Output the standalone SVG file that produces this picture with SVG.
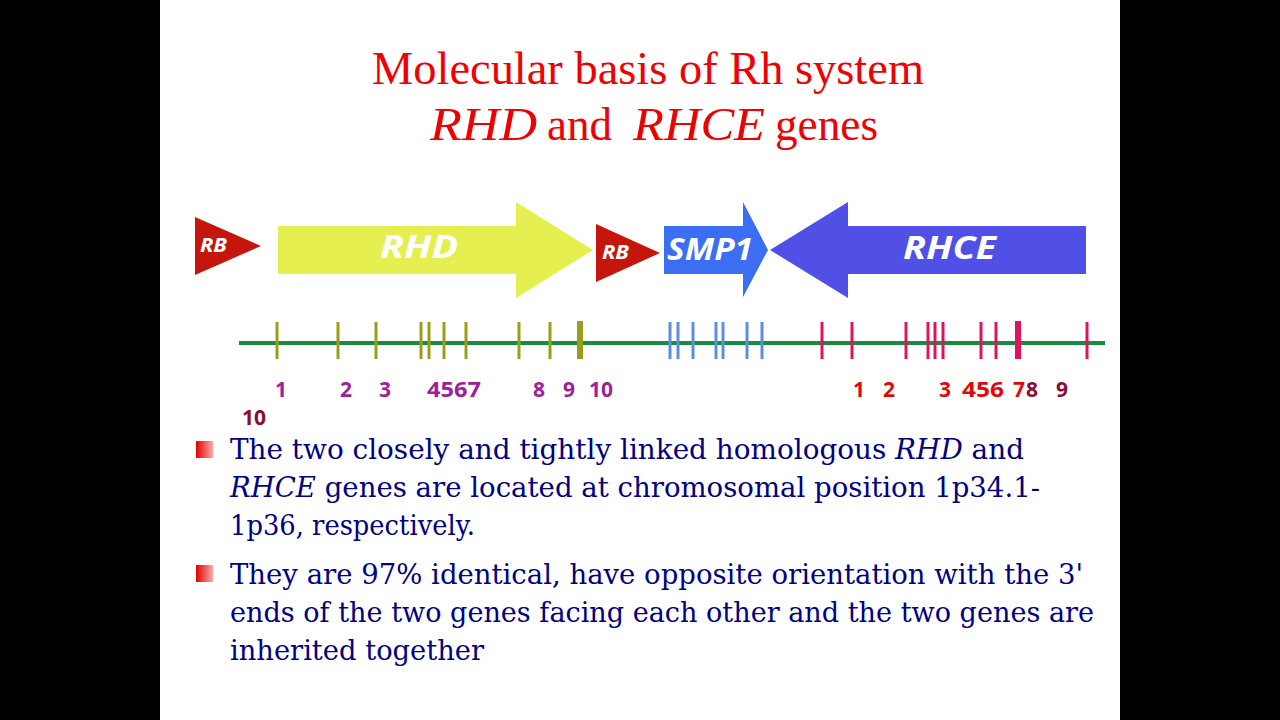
<svg xmlns="http://www.w3.org/2000/svg" width="1280" height="720" viewBox="0 0 1280 720">
<defs>
<linearGradient id="bul" x1="0" y1="0" x2="1" y2="0">
<stop offset="0" stop-color="#e00000"/>
<stop offset="1" stop-color="#ffa8a8"/>
</linearGradient>
<style>
.title{font-family:"Liberation Serif","Times New Roman",serif;font-size:46px;fill:#ee0000}
.lbl{font-family:"Open Sans","DejaVu Sans",sans-serif;font-weight:700;font-style:italic;fill:#ffffff}
.num{font-family:"Open Sans","DejaVu Sans",sans-serif;font-weight:700;font-size:21px}
.pur{fill:#a0209c}
.red{fill:#e00808}
.dred{fill:#8c0c34}
.body{font-family:"DejaVu Serif","Liberation Serif",serif;font-size:28px;fill:#000080}
.tD{stroke:#9c9c1c;stroke-width:3}
.tS{stroke:#5c8ee0;stroke-width:3}
.tC{stroke:#e0145c;stroke-width:3}
.thick{stroke-width:6}
</style>
</defs>
<rect x="0" y="0" width="1280" height="720" fill="#000000"/>
<rect x="160" y="0" width="960" height="720" fill="#ffffff"/>

<g id="title">
<text class="title" x="648" y="84" text-anchor="middle" textLength="552" lengthAdjust="spacingAndGlyphs">Molecular basis of Rh system</text>
<text class="title" x="430" y="140" font-style="italic" textLength="107" lengthAdjust="spacingAndGlyphs">RHD</text>
<text class="title" x="547" y="140" textLength="65" lengthAdjust="spacingAndGlyphs">and</text>
<text class="title" x="633" y="140" font-style="italic" textLength="132" lengthAdjust="spacingAndGlyphs">RHCE</text>
<text class="title" x="775" y="140" textLength="103" lengthAdjust="spacingAndGlyphs">genes</text>
</g>

<g id="rb1">
<polygon points="195,217 261,246 195,275" fill="#c4160c"/>
<text class="lbl" x="200" y="252" font-size="19" textLength="27" lengthAdjust="spacingAndGlyphs">RB</text>
</g>
<g id="rhd">
<polygon points="278,226 516,226 516,202 593,250 516,298 516,274 278,274" fill="#e5f050"/>
<text class="lbl" x="380" y="258" font-size="33" textLength="78" lengthAdjust="spacingAndGlyphs">RHD</text>
</g>
<g id="rb2">
<polygon points="596,224 660,253 596,282" fill="#c4160c"/>
<text class="lbl" x="602" y="259" font-size="19" textLength="27" lengthAdjust="spacingAndGlyphs">RB</text>
</g>
<g id="smp1">
<polygon points="664,226 743,226 743,202 768,250 743,297 743,274 664,274" fill="#3b6ef2"/>
<text class="lbl" x="667" y="260" font-size="31" textLength="86" lengthAdjust="spacingAndGlyphs">SMP1</text>
</g>
<g id="rhce">
<polygon points="770,250 848,202 848,226 1086,226 1086,274 848,274 848,298" fill="#5050e6"/>
<text class="lbl" x="903" y="259" font-size="33" textLength="93" lengthAdjust="spacingAndGlyphs">RHCE</text>
</g>

<g id="chromosome">
<line x1="239" y1="343" x2="1105" y2="343" stroke="#1b8a3c" stroke-width="4"/>
<g id="rhd-exons">
<line class="tD" x1="277" y1="322" x2="277" y2="359"/>
<line class="tD" x1="338" y1="322" x2="338" y2="359"/>
<line class="tD" x1="376" y1="322" x2="376" y2="359"/>
<line class="tD" x1="421" y1="322" x2="421" y2="359"/>
<line class="tD" x1="429" y1="322" x2="429" y2="359"/>
<line class="tD" x1="444" y1="322" x2="444" y2="359"/>
<line class="tD" x1="466" y1="322" x2="466" y2="359"/>
<line class="tD" x1="519" y1="322" x2="519" y2="359"/>
<line class="tD" x1="550" y1="322" x2="550" y2="359"/>
<line class="tD thick" x1="580" y1="321" x2="580" y2="359"/>
</g>
<g id="smp1-exons">
<line class="tS" x1="670" y1="322" x2="670" y2="359"/>
<line class="tS" x1="678" y1="322" x2="678" y2="359"/>
<line class="tS" x1="693" y1="322" x2="693" y2="359"/>
<line class="tS" x1="716" y1="322" x2="716" y2="359"/>
<line class="tS" x1="723" y1="322" x2="723" y2="359"/>
<line class="tS" x1="747" y1="322" x2="747" y2="359"/>
<line class="tS" x1="762" y1="322" x2="762" y2="359"/>
</g>
<g id="rhce-exons">
<line class="tC" x1="822" y1="322" x2="822" y2="359"/>
<line class="tC" x1="852" y1="322" x2="852" y2="359"/>
<line class="tC" x1="906" y1="322" x2="906" y2="359"/>
<line class="tC" x1="928" y1="322" x2="928" y2="359"/>
<line class="tC" x1="935" y1="322" x2="935" y2="359"/>
<line class="tC" x1="943" y1="322" x2="943" y2="359"/>
<line class="tC" x1="981" y1="322" x2="981" y2="359"/>
<line class="tC" x1="996" y1="322" x2="996" y2="359"/>
<line class="tC thick" x1="1018" y1="321" x2="1018" y2="359"/>
<line class="tC" x1="1087" y1="322" x2="1087" y2="359"/>
</g>
</g>

<g id="exon-numbers">
<text class="num pur" x="275" y="397">1</text>
<text class="num pur" x="340" y="397">2</text>
<text class="num pur" x="379" y="397">3</text>
<text class="num pur" x="427" y="397" textLength="54" lengthAdjust="spacingAndGlyphs">4567</text>
<text class="num pur" x="533" y="397">8</text>
<text class="num pur" x="563" y="397">9</text>
<text class="num pur" x="589" y="397">10</text>
<text class="num dred" x="242" y="425">10</text>
<text class="num red" x="853" y="397">1</text>
<text class="num red" x="883" y="397">2</text>
<text class="num red" x="939" y="397">3</text>
<text class="num red" x="962" y="397" textLength="42" lengthAdjust="spacingAndGlyphs">456</text>
<text class="num red" x="1013" y="397">7</text>
<text class="num dred" x="1026" y="397">8</text>
<text class="num dred" x="1056" y="397">9</text>
</g>

<g id="bullets">
<rect x="196" y="441" width="17" height="17" fill="url(#bul)"/>
<rect x="196" y="565" width="17" height="17" fill="url(#bul)"/>
<text class="body" x="230" y="459" textLength="794" lengthAdjust="spacingAndGlyphs">The two closely and tightly linked homologous <tspan font-style="italic">RHD</tspan> and</text>
<text class="body" x="230" y="497" textLength="810" lengthAdjust="spacingAndGlyphs"><tspan font-style="italic">RHCE</tspan> genes are located at chromosomal position 1p34.1-</text>
<text class="body" x="230" y="535" textLength="245" lengthAdjust="spacingAndGlyphs">1p36, respectively.</text>
<text class="body" x="230" y="584" textLength="853" lengthAdjust="spacingAndGlyphs">They are 97% identical, have opposite orientation with the 3'</text>
<text class="body" x="230" y="622" textLength="864" lengthAdjust="spacingAndGlyphs">ends of the two genes facing each other and the two genes are</text>
<text class="body" x="230" y="660" textLength="254" lengthAdjust="spacingAndGlyphs">inherited together</text>
</g>
</svg>
